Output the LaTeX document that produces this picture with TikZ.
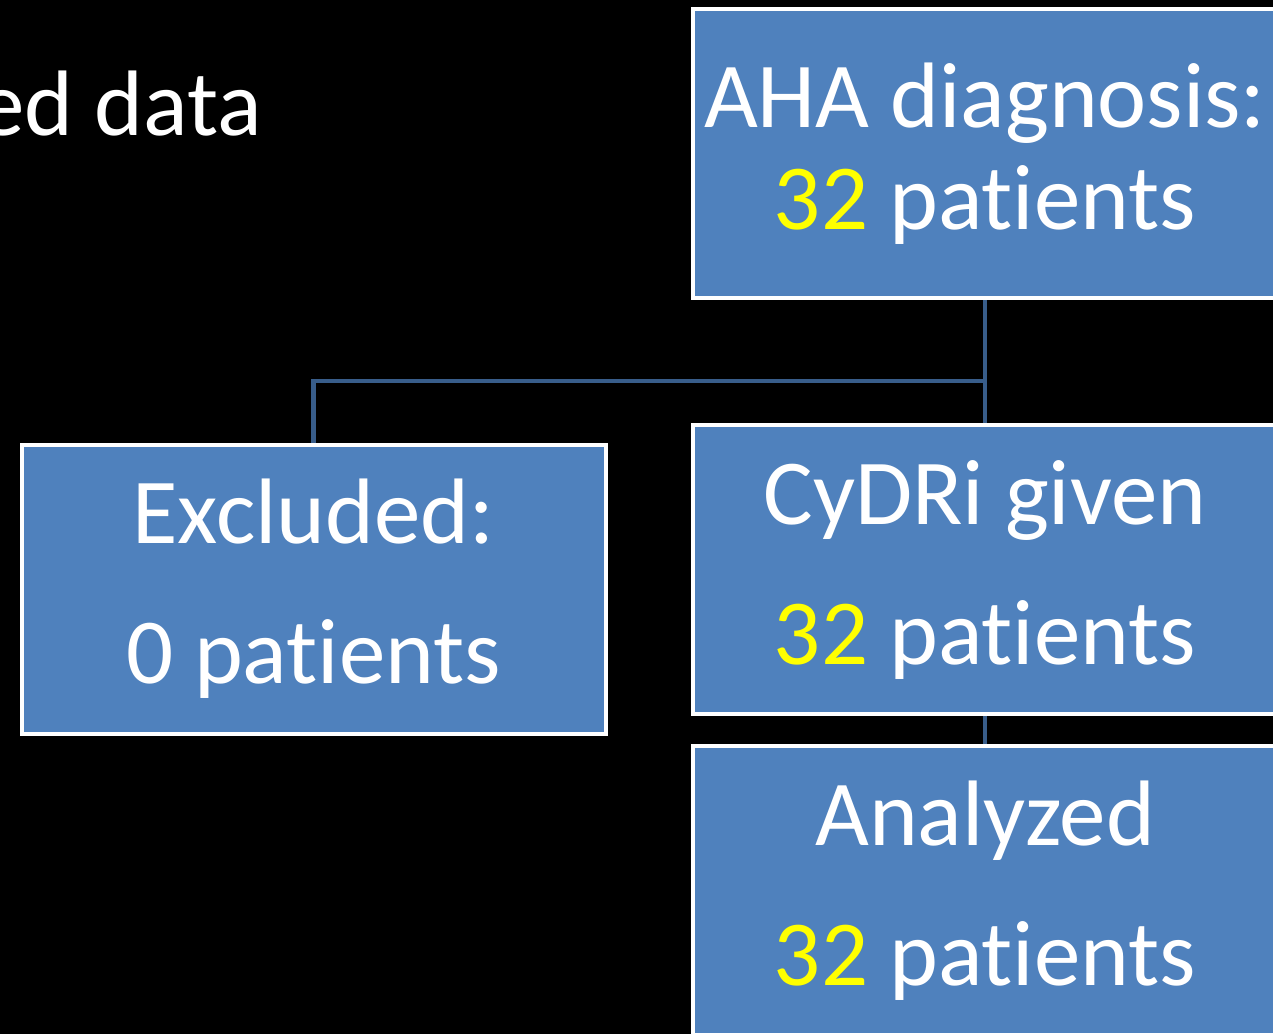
\documentclass[tikz,border=0pt]{standalone}
\usepackage{fontspec}
\setmainfont[Ligatures=NoCommon]{Carlito}
\usepackage{xcolor}
\usetikzlibrary{backgrounds}

\definecolor{boxblue}{RGB}{79,129,189}
\definecolor{linkblue}{RGB}{56,93,138}
\definecolor{numyellow}{RGB}{255,255,0}

\newcommand{\hinum}[1]{\textcolor{numyellow}{#1}}

\tikzset{
	bigtext/.style={text=white, font=\fontsize{93}{102}\selectfont},
	stagebox/.style={bigtext, draw=white, line width=4pt, fill=boxblue,
		minimum width=584pt, minimum height=289pt, inner sep=0pt, align=center},
	link/.style={draw=linkblue, line width=4.5pt}
}

\begin{document}
\begin{tikzpicture}[x=1pt,y=-1pt]
				\def \gap {38pt}

				\begin{pgfonlayer}{background}
					\fill[black] (0,0) rectangle (1273,1034);
				\end{pgfonlayer}
				\useasboundingbox (0,0) rectangle (1273,1034);

				\node[bigtext, anchor=base east, inner sep=0pt] (title) at (262,135) {ed data};

				\node[stagebox] (aha) at (985,153.5) {AHA diagnosis:\\ \hinum{32} patients};
				\node[stagebox] (excl) at (313.5,589) {Excluded:\\[\gap] 0 patients};
				\node[stagebox] (cydri) at (985,569.5) {CyDRi given\\[\gap] \hinum{32} patients};
				\node[stagebox] (anal) at (985,890.5) {Analyzed\\[\gap] \hinum{32} patients};

				\coordinate (split) at (985,381);
				\begin{pgfonlayer}{background}
					\draw[link] (aha.south) -- (cydri.north);
					\draw[link] (split) -| (excl.north);
					\draw[link] (cydri.south) -- (anal.north);
				\end{pgfonlayer}
			\end{tikzpicture}
\end{document}
